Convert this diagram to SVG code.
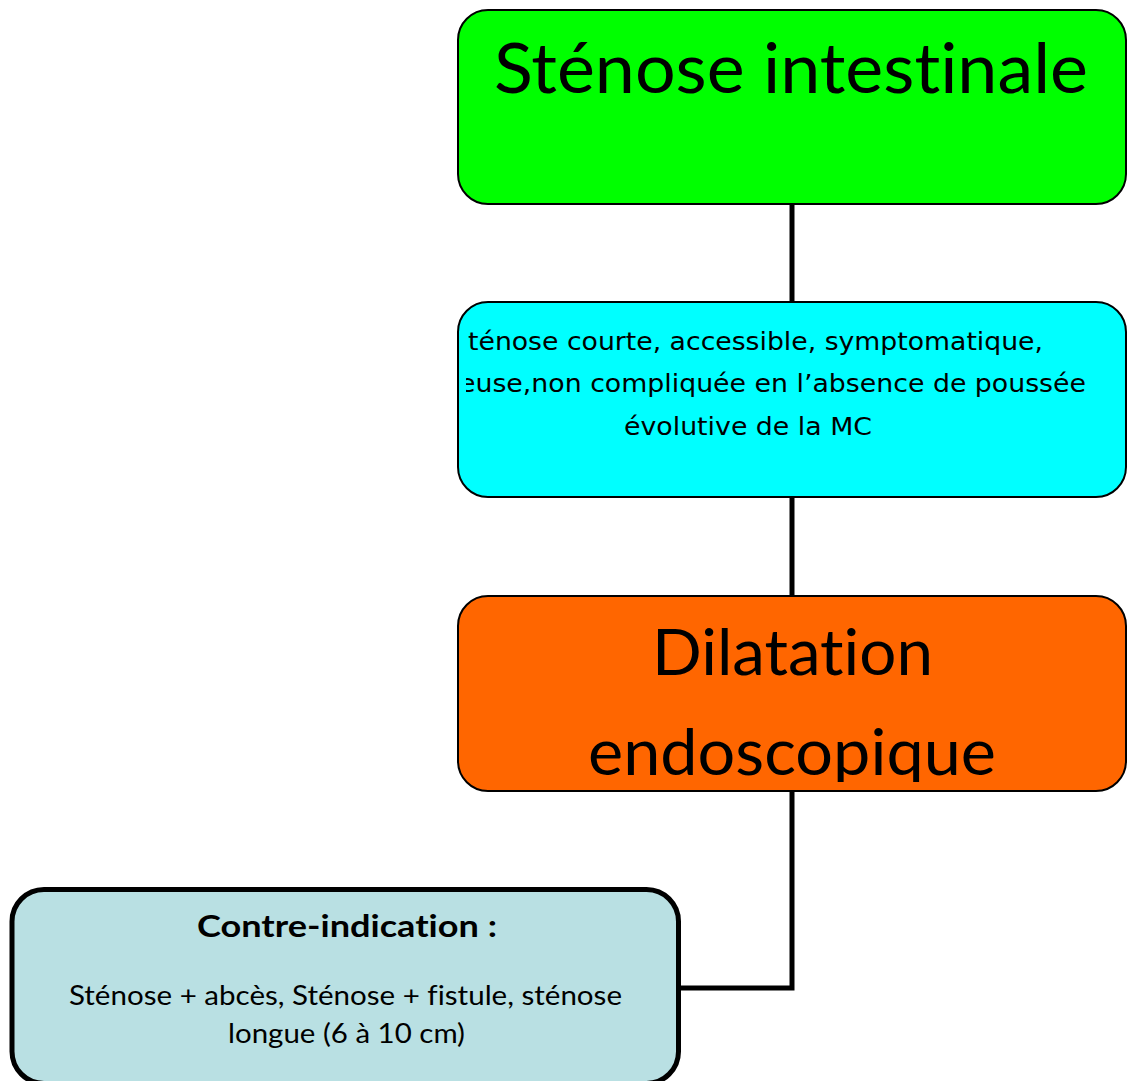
<svg xmlns="http://www.w3.org/2000/svg" width="1127" height="1081" viewBox="0 0 1127 1081">
<style>
.box{stroke:#000;stroke-width:2}
.cal{font-family:Lato,"Open Sans","Liberation Sans",sans-serif;fill:#000;font-variant-ligatures:none;font-feature-settings:"liga" 0}
.dv{font-family:"DejaVu Sans",Verdana,sans-serif;font-size:25px;fill:#000}
.conn{fill:none;stroke:#000;stroke-width:5}
</style>
<defs>
<clipPath id="clipCyan"><rect x="466" y="303" width="655" height="193"/></clipPath>
<clipPath id="clipOrange"><rect x="459" y="597" width="666" height="185"/></clipPath>
</defs>
<g id="connectors">
<path class="conn" d="M792 204 V303"/>
<path class="conn" d="M792 496 V597"/>
<path class="conn" d="M792 790 V988 H680"/>
</g>
<g id="node-stenose">
<rect class="box" x="458" y="10" width="668" height="194" rx="30" fill="#00ff00"/>
<text class="cal" x="494" y="93" font-size="70" textLength="594" lengthAdjust="spacingAndGlyphs">Sténose intestinale</text>
</g>
<g id="node-criteres">
<rect class="box" x="458" y="302" width="668" height="195" rx="30" fill="#00ffff"/>
<g clip-path="url(#clipCyan)">
<text class="dv" x="468" y="350" textLength="575" lengthAdjust="spacingAndGlyphs">ténose courte, accessible, symptomatique,</text>
<text class="dv" x="459" y="392" textLength="627" lengthAdjust="spacingAndGlyphs">euse,non compliquée en l’absence de poussée</text>
<text class="dv" x="624" y="435" textLength="248" lengthAdjust="spacingAndGlyphs">évolutive de la MC</text>
</g>
</g>
<g id="node-dilatation">
<rect class="box" x="458" y="596" width="668" height="195" rx="30" fill="#ff6600"/>
<g clip-path="url(#clipOrange)">
<text class="cal" x="652" y="675" font-size="63" textLength="281" lengthAdjust="spacingAndGlyphs">Dilatation</text>
<text class="cal" x="588" y="775" font-size="63" textLength="408" lengthAdjust="spacingAndGlyphs">endoscopique</text>
</g>
</g>
<g id="node-contre">
<rect x="12" y="889.5" width="666.5" height="194" rx="32" fill="#b9e0e3" stroke="#000" stroke-width="5"/>
<text class="cal" x="197" y="937" font-size="31" font-weight="bold" textLength="300" lengthAdjust="spacingAndGlyphs">Contre-indication :</text>
<text class="cal" x="69" y="1005" font-size="27" textLength="553" lengthAdjust="spacingAndGlyphs">Sténose + abcès, Sténose + fistule, sténose</text>
<text class="cal" x="228" y="1043" font-size="27" textLength="237" lengthAdjust="spacingAndGlyphs">longue (6 à 10 cm)</text>
</g>
</svg>
